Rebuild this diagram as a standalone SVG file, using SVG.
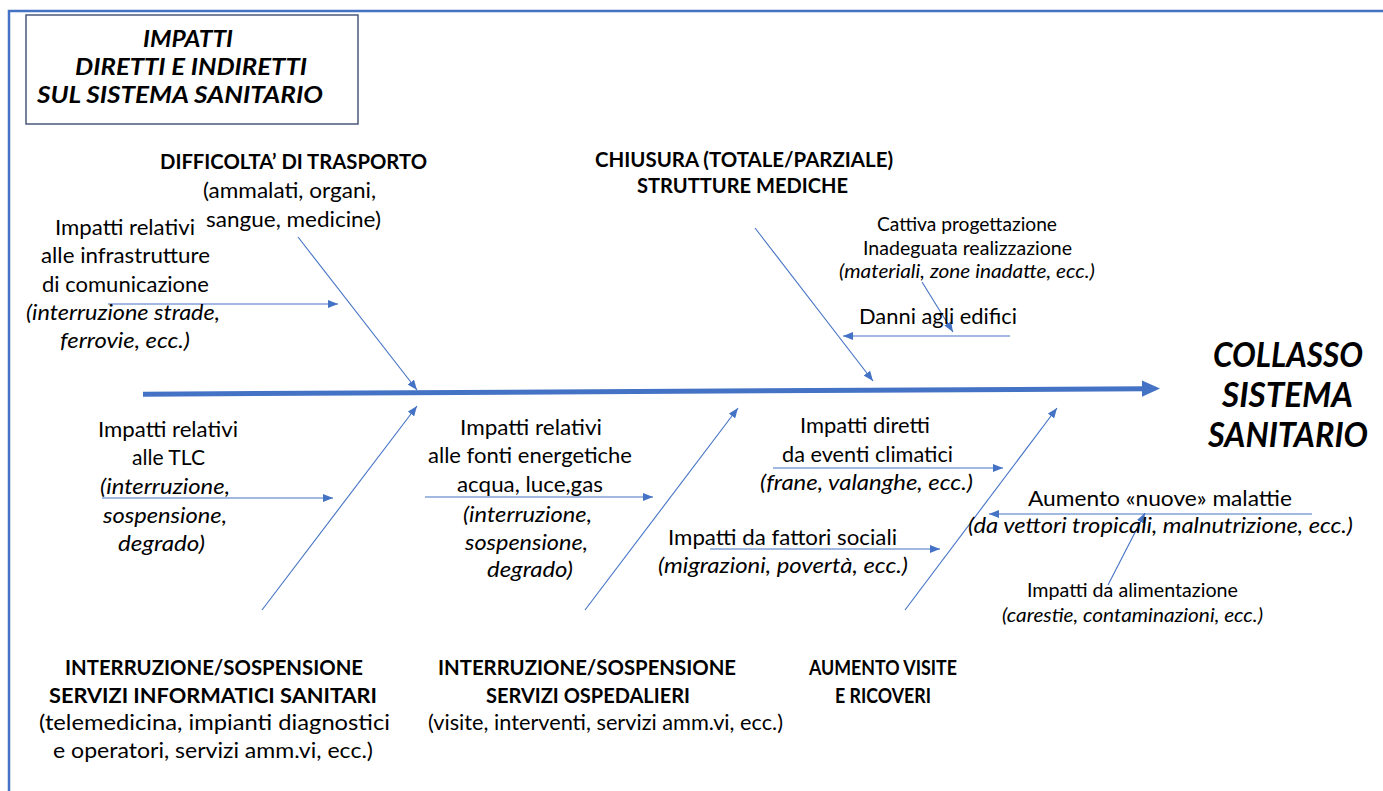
<svg xmlns="http://www.w3.org/2000/svg" width="1383" height="791" viewBox="0 0 1383 791">
  <style>
    text { font-family: Lato, "Open Sans", "Liberation Sans", sans-serif; fill: #000000; }
    .r  { font-size: 21.4px; }
    .i  { font-size: 21.4px; font-style: italic; }
    .s  { font-size: 18.9px; }
    .si { font-size: 18.9px; font-style: italic; }
    .b  { font-size: 21.6px; font-weight: bold; }
    .bi { font-size: 22px; font-weight: bold; font-style: italic; }
    .big { font-size: 35px; font-weight: bold; font-style: italic; }
    .bone { fill: none; stroke: #4472c4; stroke-width: 1.1; marker-end: url(#ah); }
    .spine { fill: none; stroke: #4472c4; stroke-width: 5; }
  </style>
  <defs>
    <marker id="ah" viewBox="0 0 10 8" refX="10" refY="4" markerWidth="10" markerHeight="8" markerUnits="userSpaceOnUse" orient="auto">
      <path d="M0,0 L10,4 L0,8 z" fill="#4472c4"/>
    </marker>
  </defs>

  <rect width="1383" height="791" fill="#ffffff"/>
  <!-- outer frame -->
  <path d="M9,791 V11 H1383" fill="none" stroke="#4472c4" stroke-width="2.5"/>

  <!-- connectors -->
  <g id="connectors">
    <path class="spine" d="M143,394.2 L1145,388.7"/>
    <polygon points="1142,380.5 1160,388.6 1142,396.7" fill="#4472c4"/>
    <path class="bone" d="M298,237 L417,390"/>
    <path class="bone" d="M755,228 L873,381"/>
    <path class="bone" d="M262,610 L417,406"/>
    <path class="bone" d="M585,610 L738,408"/>
    <path class="bone" d="M905,610 L1057,408"/>
    <path class="bone" d="M108,304 L338,304"/>
    <path class="bone" d="M102,498 L333,498"/>
    <path class="bone" d="M425,497 L653,497"/>
    <path class="bone" d="M773,468 L1003,468"/>
    <path class="bone" d="M710,549 L940,549"/>
    <path class="bone" d="M1010,336 L843,336"/>
    <path class="bone" d="M922,282 L953,332"/>
    <path class="bone" d="M1312,514 L989,514"/>
    <path class="bone" d="M1108,585 L1145,513"/>
  </g>

  <!-- title box -->
  <g id="title">
    <rect x="26" y="15" width="332" height="109" fill="none" stroke="#4a5a7c" stroke-width="1.5"/>
    <text class="bi" x="143" y="47" textLength="90" lengthAdjust="spacingAndGlyphs">IMPATTI</text>
    <text class="bi" x="75" y="75" textLength="232" lengthAdjust="spacingAndGlyphs">DIRETTI E INDIRETTI</text>
    <text class="bi" x="37" y="103" textLength="286" lengthAdjust="spacingAndGlyphs">SUL SISTEMA SANITARIO</text>
  </g>

  <!-- effect -->
  <g id="effect">
    <text class="big" x="1213" y="367" textLength="150" lengthAdjust="spacingAndGlyphs">COLLASSO</text>
    <text class="big" x="1222" y="407" textLength="131" lengthAdjust="spacingAndGlyphs">SISTEMA</text>
    <text class="big" x="1208" y="447" textLength="160" lengthAdjust="spacingAndGlyphs">SANITARIO</text>
  </g>

  <!-- main categories -->
  <g id="cat-transport">
    <text class="b" x="160" y="169" textLength="267" lengthAdjust="spacingAndGlyphs">DIFFICOLTA’ DI TRASPORTO</text>
    <text class="r" x="203" y="198" textLength="173" lengthAdjust="spacingAndGlyphs">(ammalati, organi,</text>
    <text class="r" x="206" y="227" textLength="175" lengthAdjust="spacingAndGlyphs">sangue, medicine)</text>
  </g>
  <g id="cat-structures">
    <text class="b" x="595" y="167" textLength="298" lengthAdjust="spacingAndGlyphs">CHIUSURA (TOTALE/PARZIALE)</text>
    <text class="b" x="637" y="193" textLength="211" lengthAdjust="spacingAndGlyphs">STRUTTURE MEDICHE</text>
  </g>
  <g id="cat-it">
    <text class="b" x="65" y="675" textLength="298" lengthAdjust="spacingAndGlyphs">INTERRUZIONE/SOSPENSIONE</text>
    <text class="b" x="49" y="703" textLength="328" lengthAdjust="spacingAndGlyphs">SERVIZI INFORMATICI SANITARI</text>
    <text class="r" x="39" y="730" textLength="351" lengthAdjust="spacingAndGlyphs">(telemedicina, impianti diagnostici</text>
    <text class="r" x="53" y="758" textLength="320" lengthAdjust="spacingAndGlyphs">e operatori, servizi amm.vi, ecc.)</text>
  </g>
  <g id="cat-hospital">
    <text class="b" x="438" y="675" textLength="298" lengthAdjust="spacingAndGlyphs">INTERRUZIONE/SOSPENSIONE</text>
    <text class="b" x="486" y="703" textLength="204" lengthAdjust="spacingAndGlyphs">SERVIZI OSPEDALIERI</text>
    <text class="r" x="428" y="730" textLength="355" lengthAdjust="spacingAndGlyphs">(visite, interventi, servizi amm.vi, ecc.)</text>
  </g>
  <g id="cat-visits">
    <text class="b" x="809" y="675" textLength="148" lengthAdjust="spacingAndGlyphs">AUMENTO VISITE</text>
    <text class="b" x="835" y="703" textLength="96" lengthAdjust="spacingAndGlyphs">E RICOVERI</text>
  </g>

  <!-- causes -->
  <g id="cause-communication">
    <text class="r" x="55" y="235" textLength="140" lengthAdjust="spacingAndGlyphs">Impatti relativi</text>
    <text class="r" x="41" y="263" textLength="169" lengthAdjust="spacingAndGlyphs">alle infrastrutture</text>
    <text class="r" x="42" y="292" textLength="167" lengthAdjust="spacingAndGlyphs">di comunicazione</text>
    <text class="i" x="26" y="320" textLength="194" lengthAdjust="spacingAndGlyphs">(interruzione strade,</text>
    <text class="i" x="60" y="348" textLength="130" lengthAdjust="spacingAndGlyphs">ferrovie, ecc.)</text>
  </g>
  <g id="cause-tlc">
    <text class="r" x="98" y="437" textLength="140" lengthAdjust="spacingAndGlyphs">Impatti relativi</text>
    <text class="r" x="132" y="465" textLength="73" lengthAdjust="spacingAndGlyphs">alle TLC</text>
    <text class="i" x="100" y="494" textLength="130" lengthAdjust="spacingAndGlyphs">(interruzione,</text>
    <text class="i" x="103" y="523" textLength="124" lengthAdjust="spacingAndGlyphs">sospensione,</text>
    <text class="i" x="118" y="551" textLength="87" lengthAdjust="spacingAndGlyphs">degrado)</text>
  </g>
  <g id="cause-energy">
    <text class="r" x="460" y="435" textLength="142" lengthAdjust="spacingAndGlyphs">Impatti relativi</text>
    <text class="r" x="428" y="463" textLength="204" lengthAdjust="spacingAndGlyphs">alle fonti energetiche</text>
    <text class="r" x="457" y="492" textLength="146" lengthAdjust="spacingAndGlyphs">acqua, luce,gas</text>
    <text class="i" x="463" y="522" textLength="129" lengthAdjust="spacingAndGlyphs">(interruzione,</text>
    <text class="i" x="465" y="550" textLength="123" lengthAdjust="spacingAndGlyphs">sospensione,</text>
    <text class="i" x="487" y="577" textLength="86" lengthAdjust="spacingAndGlyphs">degrado)</text>
  </g>
  <g id="cause-buildings">
    <text class="s" x="877" y="231" textLength="180" lengthAdjust="spacingAndGlyphs">Cattiva progettazione</text>
    <text class="s" x="863" y="255" textLength="209" lengthAdjust="spacingAndGlyphs">Inadeguata realizzazione</text>
    <text class="si" x="839" y="278" textLength="256" lengthAdjust="spacingAndGlyphs">(materiali, zone inadatte, ecc.)</text>
    <text class="r" x="859" y="324" textLength="158" lengthAdjust="spacingAndGlyphs">Danni agli edifici</text>
  </g>
  <g id="cause-climate">
    <text class="r" x="800" y="433" textLength="130" lengthAdjust="spacingAndGlyphs">Impatti diretti</text>
    <text class="r" x="782" y="462" textLength="171" lengthAdjust="spacingAndGlyphs">da eventi climatici</text>
    <text class="i" x="760" y="490" textLength="213" lengthAdjust="spacingAndGlyphs">(frane, valanghe, ecc.)</text>
  </g>
  <g id="cause-social">
    <text class="r" x="668" y="545" textLength="229" lengthAdjust="spacingAndGlyphs">Impatti da fattori sociali</text>
    <text class="i" x="658" y="573" textLength="250" lengthAdjust="spacingAndGlyphs">(migrazioni, povertà, ecc.)</text>
  </g>
  <g id="cause-diseases">
    <text class="r" x="1028" y="506" textLength="264" lengthAdjust="spacingAndGlyphs">Aumento «nuove» malattie</text>
    <text class="i" x="968" y="533" textLength="385" lengthAdjust="spacingAndGlyphs">(da vettori tropicali, malnutrizione, ecc.)</text>
  </g>
  <g id="cause-food">
    <text class="s" x="1027" y="597" textLength="211" lengthAdjust="spacingAndGlyphs">Impatti da alimentazione</text>
    <text class="si" x="1002" y="622" textLength="261" lengthAdjust="spacingAndGlyphs">(carestie, contaminazioni, ecc.)</text>
  </g>
</svg>
